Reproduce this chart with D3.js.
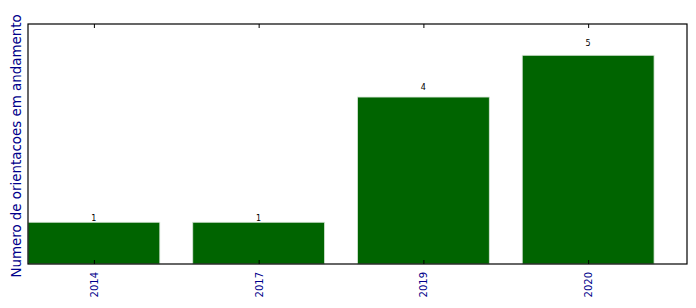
<!DOCTYPE html>
<html>
<head>
<meta charset="utf-8">
<script src="https://cdn.jsdelivr.net/npm/d3@7"></script>
<style>
  body { margin: 0; background: #fff; }
  text { font-family: "DejaVu Sans", sans-serif; }
</style>
</head>
<body>
<div class="container"></div>
<script>
var years = ["2014", "2017", "2019", "2020"];
var counts = [1, 1, 4, 5];
var yLabel = "Numero de orientacoes em andamento";

var W = 696, H = 308;
var pLeft = 28, pTop = 24, pRight = 687, pBottom = 264;

var svg = d3.select(".container").append("svg")
	.attr("width", W)
	.attr("height", H);

// bar positions like matplotlib: index i, width 0.8, centered
var x = d3.scaleLinear().domain([-0.4, years.length - 0.4]).range([pLeft, pRight]);
var y = d3.scaleLinear().domain([0, d3.max(counts) * 1.15]).range([pBottom, pTop]);

svg.selectAll("rect.bar")
	.data(counts)
	.enter().append("rect")
	.attr("class", "bar")
	.attr("x", function(d, i) { return x(i - 0.4); })
	.attr("width", function(d, i) { return x(i + 0.4) - x(i - 0.4); })
	.attr("y", function(d) { return y(d); })
	.attr("height", function(d) { return y(0) - y(d); })
	.style("fill", "#006400")
	.style("stroke", "#d8e6d8")
	.style("stroke-width", 0.8);

// value labels
svg.selectAll("text.val")
	.data(counts)
	.enter().append("text")
	.attr("class", "val")
	.attr("x", function(d, i) { return x(i); })
	.attr("y", function(d) { return y(d * 1.05) + 1; })
	.attr("text-anchor", "middle")
	.style("font-size", "8px")
	.style("fill", "#000")
	.text(function(d) { return d; });

// bottom axis with inward ticks
var xb = d3.axisBottom(x).tickValues(d3.range(years.length))
	.tickFormat(function(d) { return years[d]; })
	.tickSizeInner(-4).tickSizeOuter(0);
var gx = svg.append("g").attr("transform", "translate(0," + pBottom + ")").call(xb);
gx.select(".domain").remove();
gx.selectAll("line").attr("stroke", "#000");
gx.selectAll("text")
	.attr("transform", "rotate(-90)")
	.attr("x", -8).attr("y", 0).attr("dy", "0.35em")
	.attr("text-anchor", "end")
	.style("font-size", "10px")
	.style("font-family", "DejaVu Sans")
	.style("fill", "#00008b");

var xt = d3.axisTop(x).tickValues(d3.range(years.length))
	.tickFormat("").tickSizeInner(-4).tickSizeOuter(0);
var gt = svg.append("g").attr("transform", "translate(0," + pTop + ")").call(xt);
gt.select(".domain").remove();
gt.selectAll("line").attr("stroke", "#000");

// frame
svg.append("rect")
	.attr("x", pLeft).attr("y", pTop)
	.attr("width", pRight - pLeft).attr("height", pBottom - pTop)
	.style("fill", "none")
	.style("stroke", "#000")
	.style("stroke-width", 1.2);

svg.append("text")
	.attr("transform", "translate(16,146) rotate(-90)")
	.attr("text-anchor", "middle")
	.attr("dy", "0.35em")
	.style("font-size", "13.4px")
	.style("fill", "#00008b")
	.text(yLabel);
</script>
</body>
</html>
